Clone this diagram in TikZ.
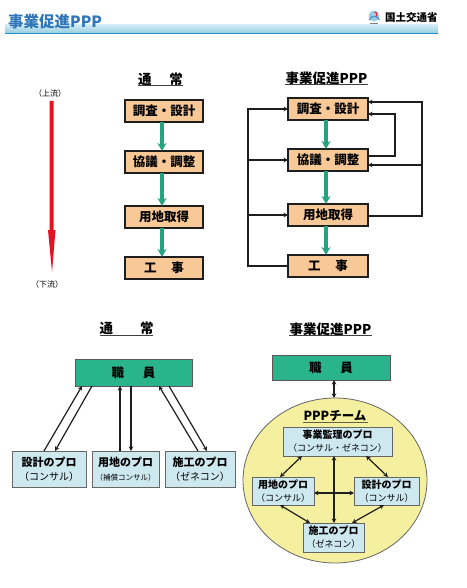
\documentclass[tikz,border=0pt]{standalone}
\usepackage{fontspec}
\setmainfont{Noto Sans CJK JP}
\usepackage{xcolor}
\definecolor{bandblue}{RGB}{30, 144, 196}
\definecolor{bandlight}{RGB}{208, 235, 245}
\definecolor{bandmid}{RGB}{150, 205, 225}
\definecolor{titleblue}{RGB}{48, 118, 184}
\definecolor{boxorange}{RGB}{248, 200, 150}
\definecolor{staffgreen}{RGB}{42, 180, 140}
\definecolor{problue}{RGB}{206, 232, 240}
\definecolor{teamyellow}{RGB}{245, 240, 160}
\definecolor{flowred}{RGB}{226, 20, 36}
\definecolor{darkline}{RGB}{30, 30, 30}
\usetikzlibrary{arrows.meta, positioning, calc, shapes.geometric}
\tikzset{
    flowbox/.style={draw=darkline, line width=1.2pt, fill=boxorange, inner sep=0pt, outer sep=0pt, minimum height=22pt, font=\fontsize{12.5}{13}\selectfont\bfseries},
    staffbox/.style={draw=black!65, line width=1pt, fill=staffgreen, inner sep=0pt, outer sep=0pt, font=\fontsize{12.5}{13}\selectfont\bfseries},
    probox/.style={draw=black!60, line width=1pt, fill=problue, inner sep=0pt, outer sep=0pt, align=center, font=\fontsize{11}{14}\selectfont\bfseries},
    teambox/.style={probox, font=\fontsize{10}{13}\selectfont\bfseries},
    heading/.style={inner sep=0pt, outer sep=0pt, font=\fontsize{13.5}{14}\selectfont\bfseries},
    rule/.style={line width=1pt, black!75},
    greenarrow/.style={-{Stealth[length=8pt,width=9pt]}, line width=3.4pt, staffgreen!90!black},
    backline/.style={line width=1.3pt, darkline},
    backarrow/.style={backline, -{Stealth[length=4.5pt,width=4.5pt]}},
    proarrow/.style={line width=1.2pt, darkline, -{Stealth[length=4.5pt,width=4.5pt]}},
    bothways/.style={line width=1.2pt, darkline, {Stealth[length=4.5pt,width=4.5pt]}-{Stealth[length=4.5pt,width=4.5pt]}},
    small/.style={inner sep=0pt, font=\fontsize{8}{8}\selectfont}
}
\newcommand{\secondline}[1]{{\fontsize{10}{14}\selectfont\mdseries #1}}
\newcommand{\teamline}[1]{{\fontsize{9}{13}\selectfont\mdseries #1}}
\begin{document}
\begin{tikzpicture}[x=1pt, y=-1pt, >=Stealth]
    \useasboundingbox (0,0) rectangle (466,588);

    \shade[top color=bandlight, bottom color=bandmid] (5,25) rectangle (438,33);
    \fill[bandblue] (5,33) rectangle (438,34.5);
    \node[inner sep=0pt, anchor=west, titleblue, font=\fontsize{15.5}{16}\selectfont\bfseries] (pagetitle) at (8,22) {事業促進PPP};
    \fill[bandmid] (374,16) circle (5.5);
    \draw[line width=0.9pt, flowred] (374.5,12) arc (-90:60:2.5);
    \draw[line width=0.8pt, titleblue] (369,20) arc (200:340:5.5);
    \fill[black!50] (370,23) rectangle (378,24);
    \node[inner sep=0pt, anchor=west, font=\fontsize{10.5}{11}\selectfont\bfseries] (ministry) at (385,18) {国土交通省};

    \node[small] (upstream) at (50,93) {（上流）};
    \node[small] (downstream) at (47,284) {（下流）};
    \fill[flowred] (49.6,101) -- (53.6,101) -- (53.6,230) -- (55.5,230) -- (52,272) -- (48,230) -- (49.6,230) -- cycle;

    \node[heading] (flowtitleA) at (160.5,79) {通\hspace{1.3em}常};
    \draw[rule] (138,86) -- (183,86);
    \node[flowbox, minimum width=78pt] (chosaA) at (164,111) {調査・設計};
    \node[flowbox, minimum width=78pt] (kyogiA) at (164,162) {協議・調整};
    \node[flowbox, minimum width=78pt] (yochiA) at (164,217) {用地取得};
    \node[flowbox, minimum width=78pt] (kojiA) at (164,268) {工\hspace{1.2em}事};
    \draw[greenarrow] ([xshift=-2pt]chosaA.south) -- ([xshift=-2pt]kyogiA.north);
    \draw[greenarrow] ([xshift=-2pt]kyogiA.south) -- ([xshift=-2pt]yochiA.north);
    \draw[greenarrow] ([xshift=-2pt]yochiA.south) -- ([xshift=-2pt]kojiA.north);

    \node[heading] (flowtitleB) at (326.5,78) {事業促進PPP};
    \draw[rule] (285,84.5) -- (368,84.5);
    \node[flowbox, minimum width=80pt] (chosaB) at (328,109) {調査・設計};
    \node[flowbox, minimum width=80pt] (kyogiB) at (328,160) {協議・調整};
    \node[flowbox, minimum width=80pt] (yochiB) at (328,215) {用地取得};
    \node[flowbox, minimum width=80pt] (kojiB) at (328,266) {工\hspace{1.2em}事};
    \draw[greenarrow] ([xshift=-2pt]chosaB.south) -- ([xshift=-2pt]kyogiB.north);
    \draw[greenarrow] ([xshift=-2pt]kyogiB.south) -- ([xshift=-2pt]yochiB.north);
    \draw[greenarrow] ([xshift=-2pt]yochiB.south) -- ([xshift=-2pt]kojiB.north);

    \coordinate (leftbus) at (248,109);
    \coordinate (rightlow) at (422,216);
    \coordinate (righttop) at (422,102);
    \coordinate (rightmid) at (422,165);
    \coordinate (innerlow) at (395,156);
    \coordinate (innertop) at (395,114);
    \draw[backarrow] (kojiB.west) -- (kojiB.west -| leftbus) -- (leftbus) -- (chosaB.west);
    \draw[backarrow] (kyogiB.west -| leftbus) -- (kyogiB.west);
    \draw[backarrow] (yochiB.west -| leftbus) -- (yochiB.west);
    \draw[backarrow] ([yshift=-1pt]yochiB.east) -- (rightlow) -- (righttop) -- ([yshift=7pt]chosaB.east);
    \draw[backarrow] (rightmid) -- ([yshift=-5pt]kyogiB.east);
    \draw[backarrow] ([yshift=4pt]kyogiB.east) -- (innerlow) -- (innertop) -- ([yshift=-5pt]chosaB.east);

    \node[heading] (teamtitleA) at (126.5,328) {通\hspace{2em}常};
    \draw[rule] (100,335) -- (153,335);
    \node[staffbox, minimum width=117pt, minimum height=27pt] (staffA) at (133.5,372.5) {職\hspace{1.5em}員};
    \node[probox, minimum width=74pt, minimum height=36pt] (sekkeiA) at (49,469) {設計のプロ\\\secondline{（コンサル）}};
    \node[probox, minimum width=67pt, minimum height=36pt] (yochiproA) at (125.5,469) {用地のプロ\\{\fontsize{7.5}{14}\selectfont\mdseries（補償コンサル）}};
    \node[probox, minimum width=70pt, minimum height=36pt] (sekoA) at (200,469) {施工のプロ\\\secondline{（ゼネコン）}};
    \draw[proarrow] ([xshift=-5pt]sekkeiA.north) -- ([xshift=-51.5pt]staffA.south);
    \draw[proarrow] ([xshift=-41.5pt]staffA.south) -- ([xshift=6pt]sekkeiA.north);
    \draw[proarrow] ([xshift=-5.5pt]yochiproA.north) -- ([xshift=-13.5pt]staffA.south);
    \draw[proarrow] ([xshift=-2.5pt]staffA.south) -- ([xshift=5.5pt]yochiproA.north);
    \draw[proarrow] ([xshift=-2pt]sekoA.north) -- ([xshift=25.5pt]staffA.south);
    \draw[proarrow] ([xshift=35.5pt]staffA.south) -- ([xshift=7pt]sekoA.north);

    \node[heading] (teamtitleB) at (330.5,329) {事業促進PPP};
    \draw[rule] (289,335) -- (372,335);
    \node[staffbox, minimum width=118pt, minimum height=25pt] (staffB) at (331,367.5) {職\hspace{1.5em}員};
    \node[ellipse, draw=black!60, line width=0.8pt, fill=teamyellow, minimum width=184pt, minimum height=165pt, inner sep=0pt, outer sep=0pt] (team) at (335,480.5) {};
    \node[inner sep=0pt, font=\fontsize{12.5}{13}\selectfont\bfseries] (teamname) at (335,416) {PPPチーム};
    \draw[line width=1pt, black!70!yellow] (303,422.5) -- (368,422.5);
    \node[teambox, minimum width=109pt, minimum height=29pt] (kanri) at (337.5,441.5) {事業監理のプロ\\\teamline{（コンサル・ゼネコン）}};
    \node[teambox, minimum width=62pt, minimum height=28pt] (yochipro) at (283,491) {用地のプロ\\\teamline{（コンサル）}};
    \node[teambox, minimum width=65pt, minimum height=28pt] (sekkei) at (386.5,491) {設計のプロ\\\teamline{（コンサル）}};
    \node[teambox, minimum width=61pt, minimum height=29pt] (seko) at (333.5,537.5) {施工のプロ\\\teamline{（ゼネコン）}};
    \draw[bothways] ([xshift=3pt]staffB.south) -- ([xshift=-1pt]team.north);
    \draw[bothways] ([xshift=-35.5pt]kanri.south) -- ([xshift=-3pt]yochipro.north);
    \draw[bothways] ([xshift=28.5pt]kanri.south) -- ([xshift=1.5pt]sekkei.north);
    \draw[bothways] ([xshift=-3pt]yochipro.south) -- ([xshift=-23.5pt]seko.north);
    \draw[bothways] ([xshift=-2.5pt]sekkei.south) -- ([xshift=18.5pt]seko.north);
    \draw[bothways] ([yshift=-2pt]yochipro.east) -- ([yshift=-2pt]sekkei.west);
    \draw[bothways] ([xshift=-3.5pt]kanri.south) -- ([xshift=0.5pt]seko.north);
\end{tikzpicture}
\end{document}
